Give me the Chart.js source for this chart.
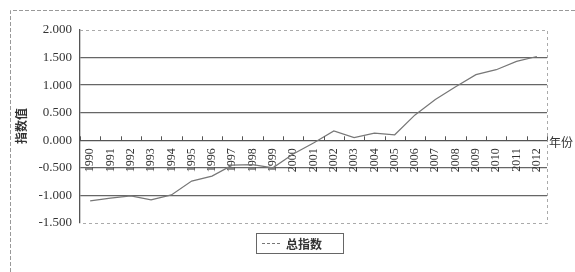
<!DOCTYPE html>
<html>
<head>
<meta charset="utf-8">
<script src="https://cdn.jsdelivr.net/npm/chart.js@4"></script>
<style>
    html, body { margin: 0; padding: 0; background: #fff; }
    #wrap { width: 575px; height: 272px; }
</style>
</head>
<body>
<div id="wrap"><canvas id="indexChart" width="575" height="272"></canvas></div>
<script>
const years = ["1990", "1991", "1992", "1993", "1994", "1995", "1996", "1997", "1998", "1999", "2000",
    "2001", "2002", "2003", "2004", "2005", "2006", "2007", "2008", "2009", "2010", "2011", "2012"];
const totalIndex = [-1.10, -1.05, -1.01, -1.08, -0.99, -0.74, -0.65, -0.45, -0.44, -0.50, -0.25,
    -0.05, 0.17, 0.05, 0.13, 0.10, 0.46, 0.74, 0.97, 1.19, 1.28, 1.43, 1.52];
const seriesName = "总指数";
const yTitle = "指数值";
const xTitle = "年份";
const yMin = -1.5, yMax = 2, yStep = 0.5;

const serif = "'Liberation Serif', 'DejaVu Serif', serif";
const cjk = "'Noto Sans CJK SC', sans-serif";

const decorations = {
    id: "decorations",
    afterDraw(chart) {
        const { ctx, chartArea: a, scales } = chart;
        ctx.save();

        // outer frame
        ctx.strokeStyle = "#999";
        ctx.lineWidth = 1;
        ctx.setLineDash([4, 2]);
        ctx.beginPath();
        ctx.moveTo(10.5, 272);
        ctx.lineTo(10.5, 10.5);
        ctx.lineTo(575, 10.5);
        ctx.stroke();

        // plot area frame (top, right, bottom)
        ctx.strokeStyle = "#aaa";
        ctx.setLineDash([3, 3]);
        ctx.beginPath();
        ctx.moveTo(a.left, Math.round(a.top) + 0.5);
        ctx.lineTo(Math.round(a.right) + 0.5, Math.round(a.top) + 0.5);
        ctx.lineTo(Math.round(a.right) + 0.5, Math.round(a.bottom) + 0.5);
        ctx.lineTo(a.left, Math.round(a.bottom) + 0.5);
        ctx.stroke();
        ctx.setLineDash([]);

        // small category ticks above the zero line
        const x = scales.x;
        const y0 = scales.y.getPixelForValue(0);
        ctx.strokeStyle = "#555";
        ctx.lineWidth = 1;
        ctx.beginPath();
        for (let i = 0; i <= years.length; i++) {
            const px = Math.round(x.getPixelForValue(i - 0.5)) + 0.5;
            ctx.moveTo(px, y0);
            ctx.lineTo(px, y0 - 4);
        }
        ctx.stroke();

        // axis titles
        ctx.fillStyle = "#333";
        ctx.font = "bold 12px " + cjk;
        ctx.textAlign = "center";
        ctx.textBaseline = "middle";
        ctx.save();
        ctx.translate(21, 126);
        ctx.rotate(-Math.PI / 2);
        ctx.fillText(yTitle, 0, 0);
        ctx.restore();
        ctx.font = "12px " + cjk;
        ctx.textAlign = "left";
        ctx.fillText(xTitle, a.right + 2, y0 + 2);

        // legend box
        ctx.strokeStyle = "#666";
        ctx.lineWidth = 1;
        ctx.strokeRect(256.5, 233.5, 87, 20);
        ctx.strokeStyle = "#777";
        ctx.setLineDash([3, 2]);
        ctx.beginPath();
        ctx.moveTo(262, 243.5);
        ctx.lineTo(282, 243.5);
        ctx.stroke();
        ctx.setLineDash([]);
        ctx.font = "bold 12px " + cjk;
        ctx.fillStyle = "#333";
        ctx.fillText(seriesName, 286, 244);

        ctx.restore();
    }
};

document.addEventListener("DOMContentLoaded", () => {
    const ctx = document.getElementById("indexChart").getContext("2d");
    new Chart(ctx, {
        type: "line",
        data: {
            labels: years,
            datasets: [{
                label: seriesName,
                data: totalIndex,
                borderColor: "#777",
                borderWidth: 1.2,
                pointRadius: 0,
                tension: 0,
                fill: false
            }]
        },
        options: {
            responsive: false,
            animation: false,
            layout: { padding: { left: 10, right: 28, top: 30, bottom: 49 } },
            plugins: {
                legend: { display: false },
                tooltip: { enabled: false }
            },
            scales: {
                x: {
                    position: { y: 0 },
                    offset: true,
                    grid: { display: false },
                    border: { display: true, color: "#555", width: 1.3 },
                    ticks: {
                        autoSkip: false,
                        minRotation: 90,
                        maxRotation: 90,
                        padding: 0,
                        color: "#333",
                        font: { family: serif, size: 12 }
                    }
                },
                y: {
                    min: yMin,
                    max: yMax,
                    afterFit: scale => { scale.width = 70; },
                    grid: {
                        drawTicks: false,
                        color: c => (c.tick && (c.tick.value === yMax || c.tick.value === yMin || c.tick.value === 0)) ? "rgba(0,0,0,0)" : "#666",
                        lineWidth: 1.3
                    },
                    border: { display: true, color: "#555", width: 1.3 },
                    ticks: {
                        stepSize: yStep,
                        padding: 8,
                        color: "#333",
                        font: { family: serif, size: 13 },
                        callback: v => v.toFixed(3)
                    }
                }
            }
        },
        plugins: [decorations]
    });
});
</script>
</body>
</html>
